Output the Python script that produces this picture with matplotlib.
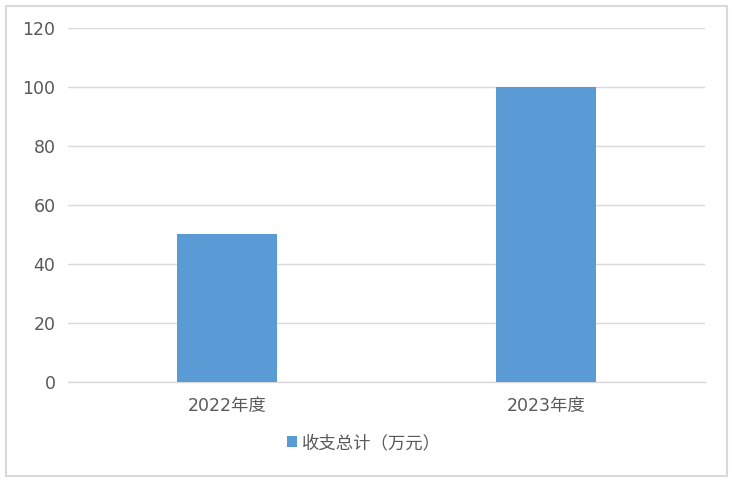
import matplotlib
matplotlib.use("Agg")
import matplotlib.pyplot as plt
from matplotlib.patches import Rectangle

plt.rcParams['font.family'] = ['DejaVu Sans', 'Noto Sans CJK SC']

categories = ["2022年度", "2023年度"]
values = [50, 100]
series_name = "收支总计（万元）"
yticks = [0, 20, 40, 60, 80, 100, 120]

text_color = "#595959"
bar_color = "#5B9BD5"
grid_color = "#D9D9D9"

fig = plt.figure(figsize=(7.33, 4.82), dpi=100)
ax = fig.add_axes([68 / 733, 1 - 382 / 482, (705 - 68) / 733, (382 - 28) / 482])

# outer chart border
fig.patches.append(Rectangle((6 / 733, 6 / 482), 721 / 733, 470 / 482,
                             transform=fig.transFigure, fill=False,
                             edgecolor=grid_color, linewidth=1.5))

x = list(range(len(categories)))
ax.bar(x, values, width=0.315, color=bar_color, label=series_name, zorder=3)

ax.set_xlim(-0.5, 1.5)
ax.set_ylim(0, 120)
ax.set_yticks(yticks)
ax.set_xticks(x)
ax.set_xticklabels(categories, family=['DejaVu Sans', 'Noto Sans CJK SC'])
ax.yaxis.grid(True, color=grid_color, linewidth=1, zorder=0)
for s in ["top", "right", "left"]:
    ax.spines[s].set_visible(False)
ax.spines["bottom"].set_color(grid_color)
ax.spines["bottom"].set_linewidth(1)
ax.tick_params(axis="both", length=0, colors=text_color, labelsize=12.5)
ax.tick_params(axis="y", pad=9)
ax.tick_params(axis="x", pad=11)

leg = fig.legend(loc="center", bbox_to_anchor=(364 / 733, 1 - 443 / 482),
                 frameon=False, handlelength=0.6, handleheight=0.6,
                 handletextpad=0.3,
                 prop={'family': ['Noto Sans CJK SC', 'DejaVu Sans'], 'size': 12.5})
for t in leg.get_texts():
    t.set_color(text_color)

fig.savefig("out.png", dpi=100)
